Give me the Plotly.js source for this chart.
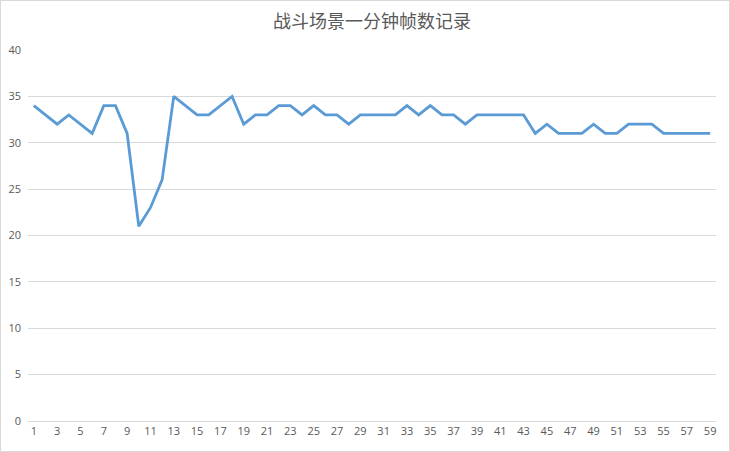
<!DOCTYPE html>
<html>
<head>
<meta charset="utf-8">
<script src="https://cdn.plot.ly/plotly-3.0.1.min.js"></script>
<style>
  body { margin: 0; background: #fff; }
  #wrap { position: relative; width: 730px; height: 452px; }
  #chart { width: 730px; height: 452px; }
  #frame { position: absolute; left: 0; top: 0; width: 728px; height: 450px;
           border: 1px solid #d9d9d9; pointer-events: none; }
</style>
</head>
<body>
<div id="wrap">
  <div id="chart"></div>
  <div id="frame"></div>
</div>
<script>
// seconds 1..59
var seconds = [];
for (var s = 1; s <= 59; s++) seconds.push(s);

// frames per second
var fps = [
    34, 33, 32, 33, 32, 31, 34, 34, 31, 21,
    23, 26, 35, 34, 33, 33, 34, 35, 32, 33,
    33, 34, 34, 33, 34, 33, 33, 32, 33, 33,
    33, 33, 34, 33, 34, 33, 33, 32, 33, 33,
    33, 33, 33, 31, 32, 31, 31, 31, 32, 31,
    31, 32, 32, 32, 31, 31, 31, 31, 31
];

var chartTitle = '战斗场景一分钟帧数记录';

var trace = {
    x: seconds,
    y: fps,
    type: 'scatter',
    mode: 'lines',
    line: { color: '#5b9bd5', width: 2.8 },
    hoverinfo: 'x+y'
};

var layout = {
    width: 730,
    height: 452,
    margin: { l: 28, r: 14, t: 50, b: 31, pad: 0 },
    paper_bgcolor: '#ffffff',
    plot_bgcolor: '#ffffff',
    showlegend: false,
    title: {
        text: chartTitle,
        x: 0.5,
        xref: 'paper',
        y: 0.953,
        yref: 'container',
        yanchor: 'middle',
        font: { family: '"Noto Sans CJK SC", sans-serif', size: 18, color: '#595959' }
    },
    xaxis: {
        range: [0.5, 59.5],
        tickmode: 'linear',
        tick0: 1,
        dtick: 2,
        showgrid: false,
        zeroline: false,
        showline: true,
        linecolor: '#d9d9d9',
        linewidth: 1,
        ticks: '',
        tickfont: { family: '"Open Sans", sans-serif', size: 11, color: '#595959' }
    },
    yaxis: {
        range: [0, 40],
        tickmode: 'linear',
        tick0: 0,
        dtick: 5,
        showgrid: true,
        gridcolor: '#d9d9d9',
        gridwidth: 1,
        zeroline: false,
        showline: false,
        ticks: '',
        ticklabelstandoff: 6,
        tickfont: { family: '"Open Sans", sans-serif', size: 11, color: '#595959' }
    }
};

Plotly.newPlot('chart', [trace], layout, { displayModeBar: false, staticPlot: true });
</script>
</body>
</html>
